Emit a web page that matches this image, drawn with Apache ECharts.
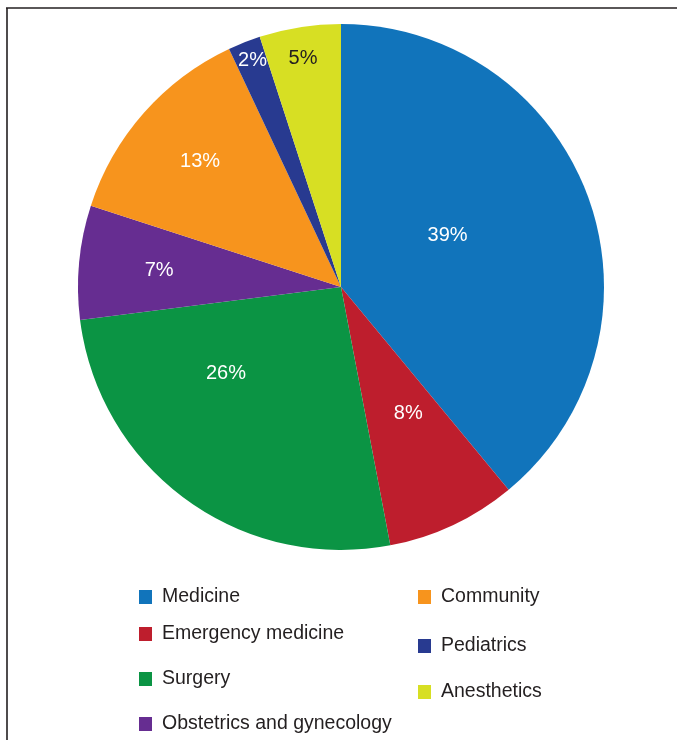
<!DOCTYPE html>
<html>
<head>
<meta charset="utf-8">
<script src="https://cdn.jsdelivr.net/npm/echarts@6/dist/echarts.min.js"></script>
<style>html,body{margin:0;padding:0;background:#fff;}#c{width:677px;height:740px;}</style>
</head>
<body>
<div id="c"></div>
<script>
const categories = ['Medicine', 'Emergency medicine', 'Surgery', 'Obstetrics and gynecology', 'Community', 'Pediatrics', 'Anesthetics'];
const values = [39, 8, 26, 7, 13, 2, 5];
const colors = ['#1174BB', '#BE1E2D', '#0B9444', '#662D91', '#F7941D', '#283A90', '#D7DF23'];
const labelColors = ['#fff', '#fff', '#fff', '#fff', '#fff', '#fff', '#231f20'];
const labelOffsets = [[-20, -6], [10, 5], [-36, -22], [-48, -4], [-40, -37], [-39, -101], [-17, -96]];
const legendPos = [[139, 597], [139, 634], [139, 679], [139, 724], [418, 597], [418, 646], [418, 692]];

const font = '"Liberation Sans", Arial, Helvetica, sans-serif';
const chart = echarts.init(document.getElementById('c'), null, {renderer: 'canvas'});

const legends = categories.map((name, i) => ({
  data: [name],
  left: legendPos[i][0],
  top: legendPos[i][1] - 10,
  orient: 'vertical',
  icon: 'rect',
  itemWidth: 13,
  itemHeight: 14,
  padding: 0,
  selectedMode: false,
  textStyle: {fontFamily: font, fontSize: 19.5, color: '#231f20', lineHeight: 20, padding: [0, 0, 0, 5]}
}));

chart.setOption({
  animation: false,
  legend: legends,
  graphic: [
    {type: 'line', shape: {x1: 6, y1: 8, x2: 677, y2: 8}, style: {stroke: '#231f20', lineWidth: 1.6}},
    {type: 'line', shape: {x1: 7, y1: 8, x2: 7, y2: 740}, style: {stroke: '#231f20', lineWidth: 1.6}}
  ],
  series: [{
    type: 'pie',
    center: [341, 287],
    radius: [0, 263],
    startAngle: 90,
    clockwise: true,
    avoidLabelOverlap: false,
    silent: true,
    label: {position: 'inside', formatter: '{c}%', fontFamily: font, fontSize: 20},
    labelLine: {show: false},
    itemStyle: {borderWidth: 0},
    data: categories.map((name, i) => ({
      name,
      value: values[i],
      itemStyle: {color: colors[i]},
      label: {color: labelColors[i], offset: labelOffsets[i]}
    }))
  }]
});
</script>
</body>
</html>
